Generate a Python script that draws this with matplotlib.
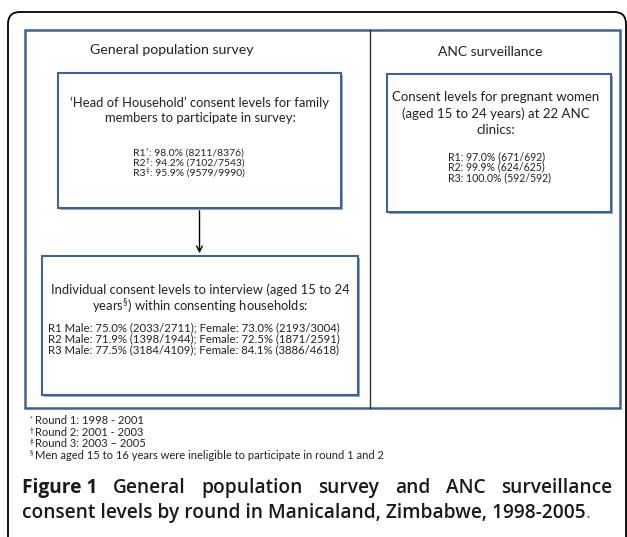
import matplotlib
matplotlib.use("Agg")
import matplotlib.pyplot as plt
from matplotlib.patches import Rectangle, FancyBboxPatch

plt.rcParams['font.family'] = ['Lato', 'DejaVu Sans']
plt.rcParams['mathtext.fontset'] = 'custom'
plt.rcParams['mathtext.rm'] = 'Lato'
plt.rcParams['mathtext.it'] = 'Lato:italic'

# data
rounds = ['R1', 'R2', 'R3']
round_marks = ['*', '\u2020', '\u2021']
round_years = ['1998 - 2001', '2001 - 2003', '2003 \u2013 2005']

hh_pct = [98.0, 94.2, 95.9]
hh_num = [8211, 7102, 9579]
hh_den = [8376, 7543, 9990]

male_pct = [75.0, 71.9, 77.5]
male_num = [2033, 1398, 3184]
male_den = [2711, 1944, 4109]
female_pct = [73.0, 72.5, 84.1]
female_num = [2193, 1871, 3886]
female_den = [3004, 2591, 4618]

anc_pct = [97.0, 99.9, 100.0]
anc_num = [671, 624, 592]
anc_den = [692, 625, 592]

W, H = 627, 537
fig = plt.figure(figsize=(W / 100, H / 100), dpi=100)
ax = fig.add_axes([0, 0, 1, 1])
ax.set_xlim(0, W)
ax.set_ylim(H, 0)
ax.axis('off')
r = fig.canvas.get_renderer()
inv = ax.transData.inverted()


def width(t):
    bb = t.get_window_extent(renderer=r)
    a = inv.transform((bb.x0, bb.y0))
    b = inv.transform((bb.x1, bb.y0))
    return b[0] - a[0]


blue = '#3d6391'
txt = '#222222'

# outer rounded frame (runs off the page)
ax.add_patch(FancyBboxPatch((8, 12), 618, 600, boxstyle='round,pad=0,rounding_size=12',
                            fc='none', ec='black', lw=1.3, clip_on=True))

# panel and divider
ax.add_patch(Rectangle((25, 30), 595, 378, fc='white', ec=blue, lw=1.8))
ax.plot([370, 370], [30, 408], color='#333333', lw=1)


def box(x0, y0, x1, y1):
    ax.add_patch(Rectangle((x0 + 1.5, y0 + 1.5), x1 - x0, y1 - y0, fc='#9aa9bd', ec='none', lw=0))
    ax.add_patch(Rectangle((x0, y0), x1 - x0, y1 - y0, fc='white', ec=blue, lw=1.5))


box(58, 73, 341, 208)
box(387, 74, 611, 212)
box(42, 256, 358, 395)

ax.annotate('', xy=(199.5, 256), xytext=(199.5, 208),
            arrowprops=dict(arrowstyle='->', color='black', lw=1, mutation_scale=10))

ax.text(90, 50, 'General population survey', ha='left', va='center', fontsize=10.2, color=txt)
ax.text(543, 52, 'ANC surveillance', ha='right', va='center', fontsize=10, color=txt)


def lines(x, y0, step, rows, size):
    for i, s in enumerate(rows):
        ax.text(x, y0 + i * step, s, ha='left', va='center', fontsize=size, color=txt)


# box 1
ax.text(200, 103, '\u2018Head of Household\u2019 consent levels for family',
        ha='center', va='center', fontsize=9.4, color=txt)
ax.text(200, 118, 'members to participate in survey:',
        ha='center', va='center', fontsize=9.4, color=txt)
for i, (rd, m, p, n, d) in enumerate(zip(rounds, round_marks, hh_pct, hh_num, hh_den)):
    y = 153 + i * 10.2
    t = ax.text(133, y, rd, ha='left', va='center', fontsize=7.5, color=txt)
    x = 133 + width(t) + 0.3
    t = ax.text(x, y - 2.5, m, ha='left', va='center', fontsize=4.8, color=txt)
    x += width(t)
    ax.text(x, y, ': %.1f%% (%d/%d)' % (p, n, d), ha='left', va='center', fontsize=7.5, color=txt)

# box 2
for i, s in enumerate(['Consent levels for pregnant women', '(aged 15 to 24 years) at 22 ANC', 'clinics:']):
    ax.text(496, 97 + i * 16.3, s, ha='center', va='center', fontsize=9.5, color=txt)
anc_lines = ['%s: %.1f%% (%d/%d)' % (rd, p, n, d) for rd, p, n, d in zip(rounds, anc_pct, anc_num, anc_den)]
lines(448, 157, 10.2, anc_lines, 7.6)

# box 3
ax.text(200, 290, 'Individual consent levels to interview (aged 15 to 24',
        ha='center', va='center', fontsize=9.4, color=txt)
ax.text(200, 306, 'years$^{\\S}$) within consenting households:',
        ha='center', va='center', fontsize=9.4, color=txt)
ind_lines = ['%s Male: %.1f%% (%d/%d); Female: %.1f%% (%d/%d)' % (rd, mp, mn, md, fp, fn, fd)
             for rd, mp, mn, md, fp, fn, fd in zip(rounds, male_pct, male_num, male_den,
                                                   female_pct, female_num, female_den)]
lines(48, 328, 11, ind_lines, 8.2)

# footnotes
foot_marks = ['*', '\u2020', '\u2021', '\u00a7']
foot_texts = ['Round %d: %s' % (i + 1, y) for i, y in enumerate(round_years)]
foot_texts.append('Men aged 15 to 16 years were ineligible to participate in round 1 and 2')
for i, (m, t) in enumerate(zip(foot_marks, foot_texts)):
    y = 421 + i * 11.4
    ax.text(30, y - 2, m, ha='left', va='center', fontsize=4.8, color=txt)
    ax.text(35, y, t, ha='left', va='center', fontsize=8, color=txt)

# caption, justified first line
cap1 = ['General', 'population', 'survey', 'and', 'ANC', 'surveillance']
cap2 = 'consent levels by round in Manicaland, Zimbabwe, 1998-2005'
cap_kw = dict(va='center', fontsize=13.8, color='#1a1a1a', family=['Open Sans', 'DejaVu Sans'])
words = [ax.text(22, 488, 'Figure 1', fontweight='bold', **cap_kw)]
words += [ax.text(22, 488, w, fontweight='semibold', **cap_kw) for w in cap1]
ws = [width(t) for t in words]
gap = (612 - 22 - sum(ws)) / (len(words) - 1)
x = 22
for t, w in zip(words, ws):
    t.set_x(x)
    x += w + gap
t2 = ax.text(22, 513, cap2, fontweight='semibold', **cap_kw)
x2 = 22 + width(t2)
ax.text(x2, 513, '.', va='center', fontsize=13.8, color='#777777', family=['Open Sans', 'DejaVu Sans'])

fig.savefig('out.png', dpi=100)
